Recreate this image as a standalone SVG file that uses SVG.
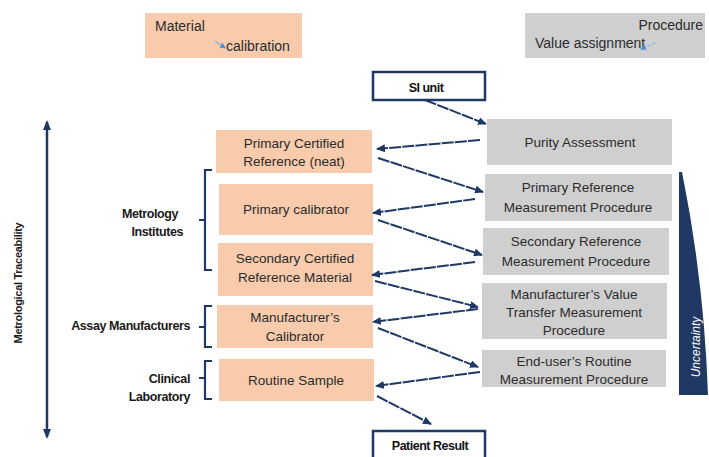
<svg xmlns="http://www.w3.org/2000/svg" width="709" height="457" viewBox="0 0 709 457">
<style>
.org{fill:#F8CBAD}
.gry{fill:#D0CFCF}
.t{font-family:"Liberation Sans",Arial,sans-serif;font-size:13.5px;fill:#2b2b2b;text-anchor:middle}
.lg{font-family:"Liberation Sans",Arial,sans-serif;font-size:14px;fill:#2b2b2b}
.lb{font-family:"Liberation Sans",Arial,sans-serif;font-size:12.5px;font-weight:bold;fill:#1a1a1a;text-anchor:end;letter-spacing:-0.4px}
.bx{fill:#fff;stroke:#1F3864;stroke-width:2.5}
.bt{font-family:"Liberation Sans",Arial,sans-serif;font-size:12.5px;font-weight:bold;fill:#111;text-anchor:middle;letter-spacing:-0.5px}
.c{stroke:#1F3864;stroke-width:2;fill:none;stroke-dasharray:12 1.2;marker-end:url(#ah)}
.br{stroke:#1F3864;stroke-width:2.2;fill:none}
</style>
<defs>
<marker id="ah" markerWidth="9" markerHeight="8" refX="8" refY="4" orient="auto" markerUnits="userSpaceOnUse">
<path d="M0,0 L9,4 L0,8 Z" fill="#1F3864"/>
</marker>
<marker id="ah2" markerWidth="10" markerHeight="8" refX="8" refY="4" orient="auto-start-reverse" markerUnits="userSpaceOnUse">
<path d="M0,0 L10,4 L0,8 Z" fill="#1F3864"/>
</marker>
<marker id="lah" markerWidth="6" markerHeight="6" refX="5" refY="3" orient="auto" markerUnits="userSpaceOnUse">
<path d="M0,0 L6,3 L0,6 Z" fill="#4A90D9"/>
</marker>
</defs>

<g id="legend-material">
<rect x="145" y="13" width="157" height="45" class="org"/>
<text x="155" y="31" class="lg">Material</text>
<line x1="215" y1="41" x2="225" y2="48" stroke="#7FB2E5" stroke-width="1.2" marker-end="url(#lah)"/>
<text x="226" y="51" class="lg">calibration</text>
</g>
<g id="legend-procedure">
<rect x="525" y="13" width="180" height="45" class="gry"/>
<text x="703" y="30" class="lg" text-anchor="end">Procedure</text>
<text x="535" y="48" class="lg">Value assignment</text>
<line x1="655" y1="43" x2="641" y2="49" stroke="#7FB2E5" stroke-width="1.2" stroke-dasharray="3 2" marker-end="url(#lah)"/>
</g>

<g id="si-unit">
<rect x="373" y="72" width="112" height="28" class="bx"/>
<text x="426" y="92" class="bt">SI unit</text>
</g>
<g id="patient-result">
<rect x="373" y="431" width="112" height="40" class="bx"/>
<text x="430" y="450" class="bt">Patient Result</text>
</g>

<g id="primary-certified-reference">
<rect x="216" y="130" width="156" height="43" class="org"/>
<text x="294" y="148" class="t">Primary Certified</text>
<text x="294" y="166" class="t">Reference  (neat)</text>
</g>
<g id="primary-calibrator">
<rect x="219" y="184" width="154" height="51" class="org"/>
<text x="296" y="214" class="t">Primary calibrator</text>
</g>
<g id="secondary-certified-reference-material">
<rect x="218" y="243" width="155" height="53" class="org"/>
<text x="295" y="263" class="t">Secondary Certified</text>
<text x="295" y="282" class="t">Reference Material</text>
</g>
<g id="manufacturers-calibrator">
<rect x="217" y="305" width="156" height="43" class="org"/>
<text x="295" y="322" class="t">Manufacturer’s</text>
<text x="295" y="341" class="t">Calibrator</text>
</g>
<g id="routine-sample">
<rect x="219" y="359" width="155" height="42" class="org"/>
<text x="296" y="385" class="t">Routine Sample</text>
</g>

<g id="purity-assessment">
<rect x="487" y="119" width="185" height="46" class="gry"/>
<text x="580" y="147" class="t">Purity Assessment</text>
</g>
<g id="primary-reference-mp">
<rect x="485" y="174" width="187" height="47" class="gry"/>
<text x="578" y="192" class="t">Primary Reference</text>
<text x="578" y="212" class="t">Measurement Procedure</text>
</g>
<g id="secondary-reference-mp">
<rect x="483" y="228" width="186" height="47" class="gry"/>
<text x="576" y="246" class="t">Secondary Reference</text>
<text x="576" y="266" class="t">Measurement Procedure</text>
</g>
<g id="manufacturers-value-transfer-mp">
<rect x="482" y="283" width="185" height="56" class="gry"/>
<text x="574" y="299" class="t">Manufacturer’s Value</text>
<text x="574" y="317" class="t">Transfer Measurement</text>
<text x="574" y="335" class="t">Procedure</text>
</g>
<g id="end-user-routine-mp">
<rect x="482" y="350" width="184" height="37" class="gry"/>
<text x="574" y="366" class="t">End-user’s Routine</text>
<text x="574" y="384" class="t">Measurement Procedure</text>
</g>

<g id="uncertainty">
<path d="M679,172 L682,172 Q704,280 708,395 L679,395 Z" fill="#1F3864"/>
<text transform="translate(700,347) rotate(-90)" font-family="'Liberation Sans',Arial,sans-serif" font-size="12" font-style="italic" fill="#fff" text-anchor="middle">Uncertainty</text>
</g>

<g id="traceability-axis">
<line x1="47" y1="122" x2="47" y2="437" stroke="#1F3864" stroke-width="2.5" marker-start="url(#ah2)" marker-end="url(#ah2)"/>
<text transform="translate(22,283) rotate(-90)" font-family="'Liberation Sans',Arial,sans-serif" font-size="11" font-weight="bold" fill="#1a1a1a" text-anchor="middle" letter-spacing="-0.3">Metrological Traceability</text>
</g>

<g id="metrology-institutes">
<path d="M212,170 H205 V270 H212 M205,220 H199" class="br"/>
<text x="178" y="218" class="lb">Metrology</text>
<text x="183" y="236" class="lb">Institutes</text>
</g>
<g id="assay-manufacturers">
<path d="M212,306 H205 V347 H212 M205,327 H199" class="br"/>
<text x="190" y="330" class="lb">Assay Manufacturers</text>
</g>
<g id="clinical-laboratory">
<path d="M212,361 H205 V399 H212 M205,378 H199" class="br"/>
<text x="190" y="383" class="lb">Clinical</text>
<text x="190" y="401" class="lb">Laboratory</text>
</g>

<g id="connectors">
<line x1="425" y1="100" x2="486" y2="124" class="c"/>
<line x1="480" y1="140" x2="377" y2="149" class="c"/>
<line x1="378" y1="158" x2="483" y2="192" class="c"/>
<line x1="475" y1="199" x2="373" y2="213" class="c"/>
<line x1="378" y1="220" x2="482" y2="255" class="c"/>
<line x1="475" y1="262" x2="372" y2="275" class="c"/>
<line x1="375" y1="281" x2="478" y2="307" class="c"/>
<line x1="478" y1="309" x2="373" y2="322" class="c"/>
<line x1="378" y1="328" x2="478" y2="367" class="c"/>
<line x1="480" y1="372" x2="376" y2="386" class="c"/>
<line x1="377" y1="396" x2="431" y2="424" class="c"/>
</g>
</svg>
